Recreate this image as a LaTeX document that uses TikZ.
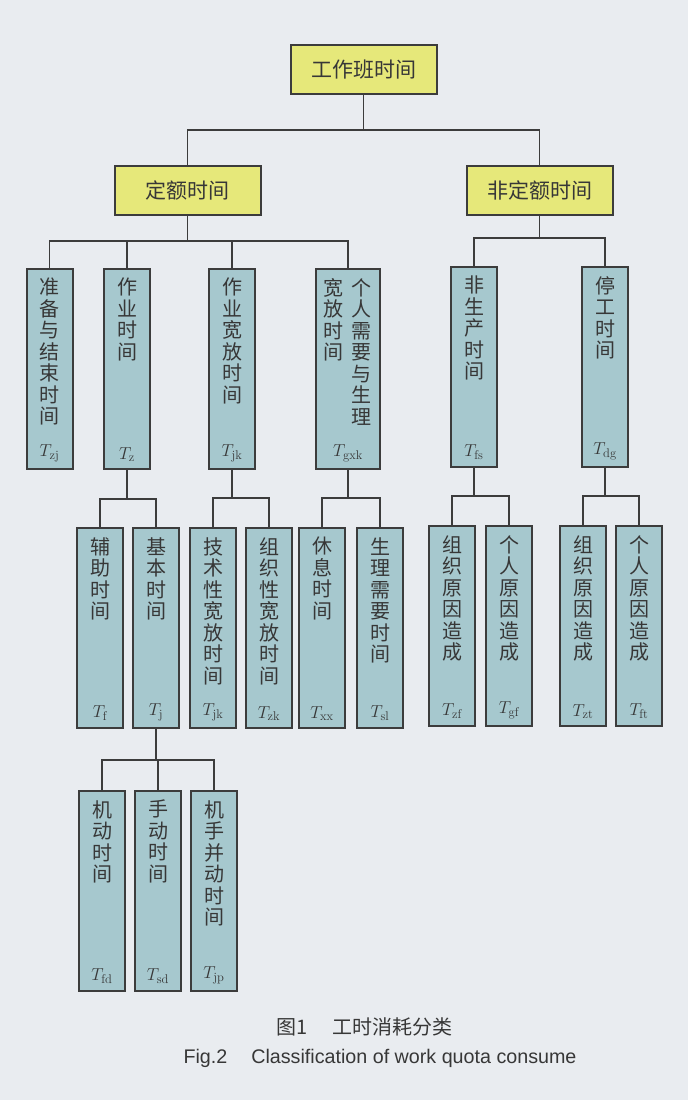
\documentclass[tikz,border=0pt]{standalone}
\usepackage{fontspec}
\setsansfont{Liberation Sans}
\newfontfamily\cjk{Noto Sans CJK SC}
\definecolor{bgc}{RGB}{233,236,240}
\definecolor{boxc}{RGB}{166,200,206}
\definecolor{yel}{RGB}{230,232,122}
\definecolor{linec}{RGB}{60,60,60}
\definecolor{txtc}{RGB}{55,55,55}
\begin{document}
\begin{tikzpicture}[x=1pt,y=-1pt,
  vbox/.style={draw=linec, fill=boxc, line width=2pt, minimum width=46pt, minimum height=200pt, anchor=north, inner sep=0pt},
  ybox/.style={draw=linec, fill=yel, line width=2pt, minimum width=146pt, minimum height=49pt, inner sep=0pt, text=txtc, font=\cjk\fontsize{21}{21}\selectfont},
  conn/.style={draw=linec, line width=1.7pt},
  vtxt/.style={anchor=north, align=center, inner sep=0pt, text=txtc, font=\cjk\fontsize{20}{21.5}\selectfont},
  sub/.style={anchor=south, inner sep=0pt, text=txtc, font=\fontsize{18}{18}\selectfont}
]
\fill[bgc] (0,0) rectangle (688,1100);
\useasboundingbox (0,0) rectangle (688,1100);

% top level
\node[ybox] (top) at (363.5,69.5) {工作班时间};
\node[ybox] (d1) at (187.5,190) {定额时间};
\node[ybox] (d2) at (539.5,190) {非定额时间};

% level 1
\node[vbox] (a1) at (49.5,268) {};
\node[vbox] (a2) at (127,268) {};
\node[vbox] (a3) at (232,268) {};
\node[vbox, minimum width=64pt] (a4) at (348,268) {};
\node[vbox] (a5) at (474,266) {};
\node[vbox] (a6) at (605,266) {};

% level 2
\node[vbox] (b1) at (100,527) {};
\node[vbox] (b2) at (156,527) {};
\node[vbox] (b3) at (213,527) {};
\node[vbox] (b4) at (269,527) {};
\node[vbox] (b5) at (322,527) {};
\node[vbox] (b6) at (380,527) {};
\node[vbox] (b7) at (452,525) {};
\node[vbox] (b8) at (509,525) {};
\node[vbox] (b9) at (583,525) {};
\node[vbox] (b10) at (639,525) {};

% level 3
\node[vbox] (c1) at (102,790) {};
\node[vbox] (c2) at (158,790) {};
\node[vbox] (c3) at (214,790) {};

% texts level 1
\node[vtxt] (ta1) at ([yshift=-10]a1.north) {准\\备\\与\\结\\束\\时\\间};
\node[vtxt] (ta2) at ([yshift=-10]a2.north) {作\\业\\时\\间};
\node[vtxt] (ta3) at ([yshift=-10]a3.north) {作\\业\\宽\\放\\时\\间};
\node[vtxt] (ta4r) at ([xshift=13,yshift=-10]a4.north) {个\\人\\需\\要\\与\\生\\理};
\node[vtxt] (ta4l) at ([xshift=-15,yshift=-10]a4.north) {宽\\放\\时\\间};
\node[vtxt] (ta5) at ([yshift=-10]a5.north) {非\\生\\产\\时\\间};
\node[vtxt] (ta6) at ([yshift=-10]a6.north) {停\\工\\时\\间};

\node[sub] (sa1) at ([yshift=8]a1.south) {$T_{\mathrm{zj}}$};
\node[sub] (sa2) at ([yshift=8]a2.south) {$T_{\mathrm{z}}$};
\node[sub] (sa3) at ([yshift=8]a3.south) {$T_{\mathrm{jk}}$};
\node[sub] (sa4) at ([yshift=8]a4.south) {$T_{\mathrm{gxk}}$};
\node[sub] (sa5) at ([yshift=8]a5.south) {$T_{\mathrm{fs}}$};
\node[sub] (sa6) at ([yshift=8]a6.south) {$T_{\mathrm{dg}}$};

% texts level 2
\node[vtxt] (tb1) at ([yshift=-10]b1.north) {辅\\助\\时\\间};
\node[vtxt] (tb2) at ([yshift=-10]b2.north) {基\\本\\时\\间};
\node[vtxt] (tb3) at ([yshift=-10]b3.north) {技\\术\\性\\宽\\放\\时\\间};
\node[vtxt] (tb4) at ([yshift=-10]b4.north) {组\\织\\性\\宽\\放\\时\\间};
\node[vtxt] (tb5) at ([yshift=-10]b5.north) {休\\息\\时\\间};
\node[vtxt] (tb6) at ([yshift=-10]b6.north) {生\\理\\需\\要\\时\\间};
\node[vtxt] (tb7) at ([yshift=-10]b7.north) {组\\织\\原\\因\\造\\成};
\node[vtxt] (tb8) at ([yshift=-10]b8.north) {个\\人\\原\\因\\造\\成};
\node[vtxt] (tb9) at ([yshift=-10]b9.north) {组\\织\\原\\因\\造\\成};
\node[vtxt] (tb10) at ([yshift=-10]b10.north) {个\\人\\原\\因\\造\\成};

\node[sub] (sb1) at ([yshift=8]b1.south) {$T_{\mathrm{f}}$};
\node[sub] (sb2) at ([yshift=8]b2.south) {$T_{\mathrm{j}}$};
\node[sub] (sb3) at ([yshift=8]b3.south) {$T_{\mathrm{jk}}$};
\node[sub] (sb4) at ([yshift=8]b4.south) {$T_{\mathrm{zk}}$};
\node[sub] (sb5) at ([yshift=8]b5.south) {$T_{\mathrm{xx}}$};
\node[sub] (sb6) at ([yshift=8]b6.south) {$T_{\mathrm{sl}}$};
\node[sub] (sb7) at ([yshift=8]b7.south) {$T_{\mathrm{zf}}$};
\node[sub] (sb8) at ([yshift=8]b8.south) {$T_{\mathrm{gf}}$};
\node[sub] (sb9) at ([yshift=8]b9.south) {$T_{\mathrm{zt}}$};
\node[sub] (sb10) at ([yshift=8]b10.south) {$T_{\mathrm{ft}}$};

% texts level 3
\node[vtxt] (tc1) at ([yshift=-10]c1.north) {机\\动\\时\\间};
\node[vtxt] (tc2) at ([yshift=-10]c2.north) {手\\动\\时\\间};
\node[vtxt] (tc3) at ([yshift=-10]c3.north) {机\\手\\并\\动\\时\\间};

\node[sub] (sc1) at ([yshift=8]c1.south) {$T_{\mathrm{fd}}$};
\node[sub] (sc2) at ([yshift=8]c2.south) {$T_{\mathrm{sd}}$};
\node[sub] (sc3) at ([yshift=8]c3.south) {$T_{\mathrm{jp}}$};

% connectors
\foreach \c in {d1,d2} \draw[conn] (top.south) -- (top.south |- 0,130) -| (\c.north);
\foreach \c in {a1,a2,a3,a4} \draw[conn] (d1.south) -- (d1.south |- 0,241) -| (\c.north);
\foreach \c in {a5,a6} \draw[conn] (d2.south) -- (d2.south |- 0,238) -| (\c.north);
\foreach \c in {b1,b2} \draw[conn] (a2.south) -- (a2.south |- 0,499) -| (\c.north);
\foreach \c in {b3,b4} \draw[conn] (a3.south) -- (a3.south |- 0,498) -| (\c.north);
\foreach \c in {b5,b6} \draw[conn] (a4.south) -- (a4.south |- 0,498) -| (\c.north);
\foreach \c in {b7,b8} \draw[conn] (a5.south) -- (a5.south |- 0,496) -| (\c.north);
\foreach \c in {b9,b10} \draw[conn] (a6.south) -- (a6.south |- 0,496) -| (\c.north);
\foreach \c in {c1,c2,c3} \draw[conn] (b2.south) -- (b2.south |- 0,760) -| (\c.north);

% caption
\node[inner sep=0pt, text=txtc, font=\cjk\fontsize{20}{20}\selectfont] (cap1) at (364.5,1027) {图1\hspace{24pt}工时消耗分类};
\node[inner sep=0pt, text=txtc, font=\sffamily\fontsize{19.7}{19.7}\selectfont] (cap2) at (380,1058) {Fig.2\hspace{24pt}Classification of work quota consume};
\end{tikzpicture}
\end{document}
